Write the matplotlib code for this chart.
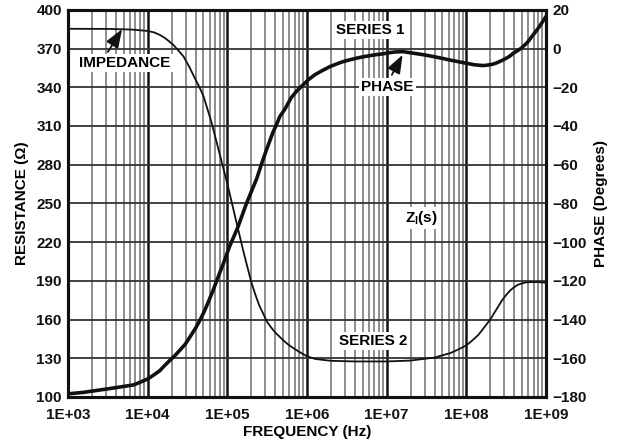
import matplotlib
matplotlib.use("Agg")
import matplotlib.pyplot as plt
import matplotlib.ticker as mticker
import numpy as np

plt.rcParams['font.family'] = ['Liberation Sans', 'DejaVu Sans']
plt.rcParams['font.weight'] = 'bold'
plt.rcParams['mathtext.fontset'] = 'custom'
plt.rcParams['mathtext.bf'] = 'Liberation Sans:bold'
plt.rcParams['mathtext.rm'] = 'Liberation Sans:bold'

# impedance (series 2): log10(freq), resistance in ohms
imp_logf = [3.0, 3.5, 3.8, 4.0, 4.08, 4.15, 4.22, 4.32, 4.38, 4.45, 4.52, 4.6,
            4.65, 4.7, 4.8, 4.9, 5.0, 5.1, 5.2, 5.3, 5.35, 5.4, 5.45, 5.5,
            5.55, 5.6, 5.65, 5.7, 5.75, 5.8, 5.85, 5.9, 5.95, 6.0, 6.05, 6.1,
            6.2, 6.3, 6.6, 7.0, 7.3, 7.6, 7.8, 7.9, 8.0, 8.07, 8.15, 8.22,
            8.3, 8.35, 8.4, 8.45, 8.5, 8.55, 8.6, 8.65, 8.7, 8.75, 8.8, 8.9, 9.0]
imp_ohm = [385.3, 385.2, 384.7, 383.6, 382.5, 380.6, 378, 372.9, 368.8, 363.8,
           356, 346, 340, 333, 313, 289, 265, 239, 213, 189, 179.5, 171, 164.5,
           158, 153.8, 150, 147, 144, 141.3, 139, 137, 135, 133.2, 131.5, 130.5,
           129.5, 128.7, 128, 127.5, 127.5, 128.2, 130.5, 134, 136.8, 140,
           143.5, 148, 153.5, 160, 165, 170, 175, 179, 182.5, 185, 187, 188,
           188.8, 189, 189, 188.5]

# phase (series 1): log10(freq), degrees
ph_logf = [3.0, 3.2, 3.4, 3.6, 3.82, 3.9, 4.0, 4.07, 4.15, 4.2, 4.28, 4.34,
           4.4, 4.47, 4.53, 4.6, 4.66, 4.71, 4.76, 4.82, 4.87, 4.95, 5.03,
           5.13, 5.24, 5.37, 5.43, 5.49, 5.53, 5.57, 5.62, 5.66, 5.72, 5.8,
           5.87, 5.95, 6.02, 6.1, 6.2, 6.29, 6.37, 6.45, 6.54, 6.62, 6.7, 6.8,
           6.88, 6.96, 7.03, 7.1, 7.2, 7.35, 7.46, 7.58, 7.7, 7.8, 7.9, 8.0,
           8.1, 8.21, 8.26, 8.32, 8.37, 8.42, 8.47, 8.52, 8.56, 8.59, 8.64,
           8.69, 8.73, 8.77, 8.81, 8.84, 8.88, 8.92, 8.96, 9.0]
ph_deg = [-178.4, -177.6, -176.4, -175.2, -173.8, -172.5, -170.7, -168.8,
          -166.5, -164.3, -161, -158.7, -156, -152.8, -149, -144.5, -140,
          -135.8, -131, -125, -119.5, -111, -102, -92.5, -80, -67, -59.5,
          -52.4, -48, -43.5, -39, -35, -31.5, -25.5, -22, -18.8, -16, -13.5,
          -11.2, -9.3, -8, -6.8, -5.8, -5.0, -4.3, -3.6, -3.1, -2.7, -2.2,
          -1.8, -1.6, -2.5, -3.2, -4.1, -5.1, -6.0, -6.8, -7.6, -8.4, -8.8,
          -8.6, -8.2, -7.6, -6.7, -5.7, -4.6, -3.5, -2.4, -1.2, 0.2, 1.7, 3.3,
          5.5, 7.1, 9.2, 11.5, 14, 16.5]

res_ticks = list(range(100, 401, 30))
ph_ticks = list(range(-180, 21, 20))

fig = plt.figure(figsize=(6.19, 4.46), dpi=100)
ax = fig.add_axes([0.110, 0.110, 0.772, 0.868])
ax2 = ax.twinx()

ax.set_xscale('log')
ax.set_xlim(1e3, 1e9)
ax.set_ylim(100, 400)
ax2.set_ylim(-180, 20)
ax.set_yticks(res_ticks)
ax2.set_yticks(ph_ticks)

ax.xaxis.set_major_locator(mticker.LogLocator(base=10, numticks=20))
ax.xaxis.set_minor_locator(mticker.LogLocator(base=10, subs=np.arange(2, 10), numticks=20))
ax.xaxis.set_major_formatter(mticker.FuncFormatter(lambda v, p: '1E+%02d' % round(np.log10(v))))
ax.xaxis.set_minor_formatter(mticker.NullFormatter())

ax.set_axisbelow(True)
ax.grid(True, which='minor', axis='x', color='#7a7a7a', lw=1.2)
ax.grid(True, which='major', axis='x', color='#111111', lw=1.8)
ax.grid(True, which='major', axis='y', color='#333333', lw=1.3)

ax.plot(10 ** np.array(imp_logf), imp_ohm, color='#111111', lw=1.3, zorder=5,
        solid_joinstyle='round')
ax2.plot(10 ** np.array(ph_logf), ph_deg, color='#111111', lw=2.6, zorder=5,
         solid_joinstyle='round')

for a in (ax, ax2):
    for s in a.spines.values():
        s.set_linewidth(2.2)
        s.set_color('#111111')
    a.tick_params(which='both', length=0, labelsize=11, colors='#111111')
ax.tick_params(axis='x', pad=8)
ax.tick_params(axis='y', pad=4.5)
ax2.tick_params(axis='y', pad=4.5)

ax.set_xlabel('FREQUENCY (Hz)', fontsize=11, fontweight='bold', labelpad=2)
ax.set_ylabel('RESISTANCE (Ω)', fontsize=11, fontweight='bold', labelpad=5)
ax2.set_ylabel('PHASE (Degrees)', fontsize=11, fontweight='bold', labelpad=5)

box = dict(boxstyle='square,pad=0.15', fc='white', ec='none')
arrow = dict(arrowstyle='-|>,head_length=0.8,head_width=0.3', color='#111111',
             lw=1.3, mutation_scale=14, shrinkA=0, shrinkB=0)

ax.text(10 ** 3.715, 358.9, 'IMPEDANCE', ha='center', va='center', fontsize=11,
        fontweight='bold', bbox=box, zorder=6)
ax.annotate('', xy=(10 ** 3.678, 385.0), xytext=(10 ** 3.50, 367.4),
            arrowprops=arrow, zorder=7)
ax.text(10 ** 7.01, 340.3, 'PHASE', ha='center', va='center', fontsize=11,
        fontweight='bold', bbox=box, zorder=6)
ax.annotate('', xy=(10 ** 7.2, 365.1), xytext=(10 ** 7.065, 349.6),
            arrowprops=arrow, zorder=7)
ax.text(10 ** 6.80, 384.5, 'SERIES 1', ha='center', va='center', fontsize=11,
        fontweight='bold', bbox=box, zorder=6)
ax.text(10 ** 6.83, 143.4, 'SERIES 2', ha='center', va='center', fontsize=11,
        fontweight='bold', bbox=box, zorder=6)
ax.text(10 ** 7.23, 238.8, r'$\mathbf{Z_I(s)}$', ha='left', va='center',
        fontsize=11, bbox=box, zorder=6)

fig.savefig('out.png', dpi=100)
